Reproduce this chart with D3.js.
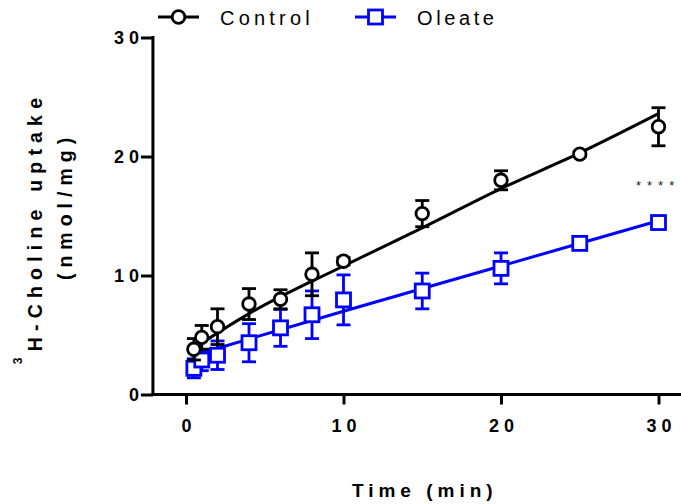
<!DOCTYPE html>
<html>
<head>
<meta charset="utf-8">
<script src="https://cdn.jsdelivr.net/npm/d3@7"></script>
<style>
  body { margin: 0; background: #fff; }
  svg { display: block; font-family: "Liberation Sans", Arial, sans-serif; }
</style>
</head>
<body>
<svg id="chart" width="681" height="504"></svg>
<script>
// Sampling times (min)
const times = [0.5, 1, 2, 4, 6, 8, 10, 15, 20, 25, 30];

// 3H-choline uptake (nmol/mg), mean and SEM
const controlMean = [3.8, 4.8, 5.7, 7.6, 8.0, 10.1, 11.2, 15.2, 18.0, 20.2, 22.5];
const controlSem  = [0.9, 1.0, 1.5, 1.3, 0.8, 1.8, 0.3, 1.1, 0.8, 0.2, 1.6];
const oleateMean  = [2.2, 2.9, 3.3, 4.35, 5.6, 6.7, 7.95, 8.7, 10.6, 12.7, 14.45];
const oleateSem   = [0.8, 0.9, 1.2, 1.6, 1.55, 2.0, 2.1, 1.5, 1.3, 0.2, 0.2];

// Fitted curves
const controlFitT = [0.5, 4, 10, 15, 20, 25, 30];
const controlFit  = [3.9, 6.8, 10.8, 14.0, 17.3, 20.3, 23.6];
const oleateFitT  = [0.5, 10, 20, 30];
const oleateFit   = [3.3, 7.0, 10.8, 14.6];

// Axis ticks
const xTicks = [0, 10, 20, 30];
const yTicks = [0, 10, 20, 30];

const svg = d3.select("#chart");
const FONT = "Liberation Sans, Arial, sans-serif";

const x = d3.scaleLinear().domain([0, 30]).range([186, 658.5]);
const y = d3.scaleLinear().domain([0, 30]).range([394.5, 37.5]);

const tickLs = 5;

// Y axis
const yAxis = svg.append("g")
  .attr("transform", `translate(${x(-2.1)},0)`)
  .call(d3.axisLeft(y).tickValues(yTicks).tickSize(12).tickSizeOuter(0).tickPadding(2));
yAxis.select(".domain").attr("stroke-width", 3).attr("d", `M0,${y(30) - 1.5}V${y(0) + 1.5}`);
yAxis.selectAll(".tick line").attr("stroke-width", 3);
yAxis.selectAll(".tick text")
  .attr("font-size", 18).attr("font-weight", "bold").attr("fill", "#000")
  .attr("font-family", FONT)
  .attr("letter-spacing", tickLs).attr("dx", tickLs);

// X axis
const xAxis = svg.append("g")
  .attr("transform", `translate(0,${y(0)})`)
  .call(d3.axisBottom(x).tickValues(xTicks).tickSize(10).tickSizeOuter(0).tickPadding(15));
xAxis.select(".domain").attr("stroke-width", 3).attr("d", `M${x(-2.1) - 1.5},0H${x(33)}`);
xAxis.selectAll(".tick line").attr("stroke-width", 3);
xAxis.selectAll(".tick text")
  .attr("font-size", 18).attr("font-weight", "bold").attr("fill", "#000")
  .attr("font-family", FONT)
  .attr("letter-spacing", tickLs).attr("dx", tickLs / 2);

// Axis titles
svg.append("text")
  .attr("x", x(15) + 2.5).attr("y", 497)
  .attr("text-anchor", "middle")
  .attr("font-size", 19).attr("font-weight", "bold")
  .attr("letter-spacing", 5)
  .text("Time (min)");

const yTitle = svg.append("g").attr("transform", "translate(42,228) rotate(-90)");
const t1 = yTitle.append("text")
  .attr("text-anchor", "middle")
  .attr("font-size", 19.5).attr("font-weight", "bold")
  .attr("letter-spacing", 6.2);
t1.append("tspan").attr("font-size", 12).attr("dy", -20).text("3");
t1.append("tspan").attr("dy", 20).text("H-Choline uptake");
yTitle.append("text")
  .attr("x", 22).attr("y", 30)
  .attr("text-anchor", "middle")
  .attr("font-size", 19.5).attr("font-weight", "bold")
  .attr("letter-spacing", 6)
  .text("(nmol/mg)");

// Series
const series = [
  { name: "Oleate", color: "#0000ff", mean: oleateMean, sem: oleateSem, fitT: oleateFitT, fit: oleateFit, shape: "square" },
  { name: "Control", color: "#000000", mean: controlMean, sem: controlSem, fitT: controlFitT, fit: controlFit, shape: "circle" }
];

const line = d3.line().x(d => x(d[0])).y(d => y(d[1])).curve(d3.curveMonotoneX);
const capW = 7;

function drawMarker(g, shape, color, cx, cy) {
  if (shape === "circle") {
    g.append("circle").attr("cx", cx).attr("cy", cy).attr("r", 6.3)
      .attr("fill", "#fff").attr("stroke", color).attr("stroke-width", 2.8);
  } else {
    g.append("rect").attr("x", cx - 7).attr("y", cy - 7).attr("width", 14).attr("height", 14)
      .attr("fill", "#fff").attr("stroke", color).attr("stroke-width", 2.8);
  }
}

series.forEach(s => {
  const g = svg.append("g");
  // error bars
  times.forEach((t, i) => {
    const lo = y(s.mean[i] - s.sem[i]), hi = y(s.mean[i] + s.sem[i]), cx = x(t);
    g.append("line").attr("x1", cx).attr("x2", cx).attr("y1", lo).attr("y2", hi)
      .attr("stroke", s.color).attr("stroke-width", 2.8);
    [lo, hi].forEach(v => g.append("line").attr("x1", cx - capW).attr("x2", cx + capW)
      .attr("y1", v).attr("y2", v).attr("stroke", s.color).attr("stroke-width", 2.8));
  });
  // fit curve
  g.append("path").datum(s.fitT.map((t, i) => [t, s.fit[i]]))
    .attr("d", line).attr("fill", "none").attr("stroke", s.color).attr("stroke-width", 3);
  // markers
  times.forEach((t, i) => drawMarker(g, s.shape, s.color, x(t), y(s.mean[i])));
});

// Significance marker at 30 min
svg.append("text")
  .attr("x", 636).attr("y", 190)
  .attr("font-size", 13).attr("letter-spacing", 6)
  .attr("fill", "#222")
  .text("****");

// Legend
const legend = [
  { name: "Control", color: "#000000", shape: "circle", x0: 158, tx: 220, ls: 4.2 },
  { name: "Oleate", color: "#0000ff", shape: "square", x0: 355, tx: 417, ls: 3.6 }
];
legend.forEach(l => {
  const g = svg.append("g");
  g.append("line").attr("x1", l.x0).attr("x2", l.x0 + 41).attr("y1", 17).attr("y2", 17)
    .attr("stroke", l.color).attr("stroke-width", 3);
  drawMarker(g, l.shape, l.color, l.x0 + 20.5, 17);
  g.append("text").attr("x", l.tx).attr("y", 25)
    .attr("font-size", 20).attr("letter-spacing", l.ls)
    .text(l.name);
});
</script>
</body>
</html>
